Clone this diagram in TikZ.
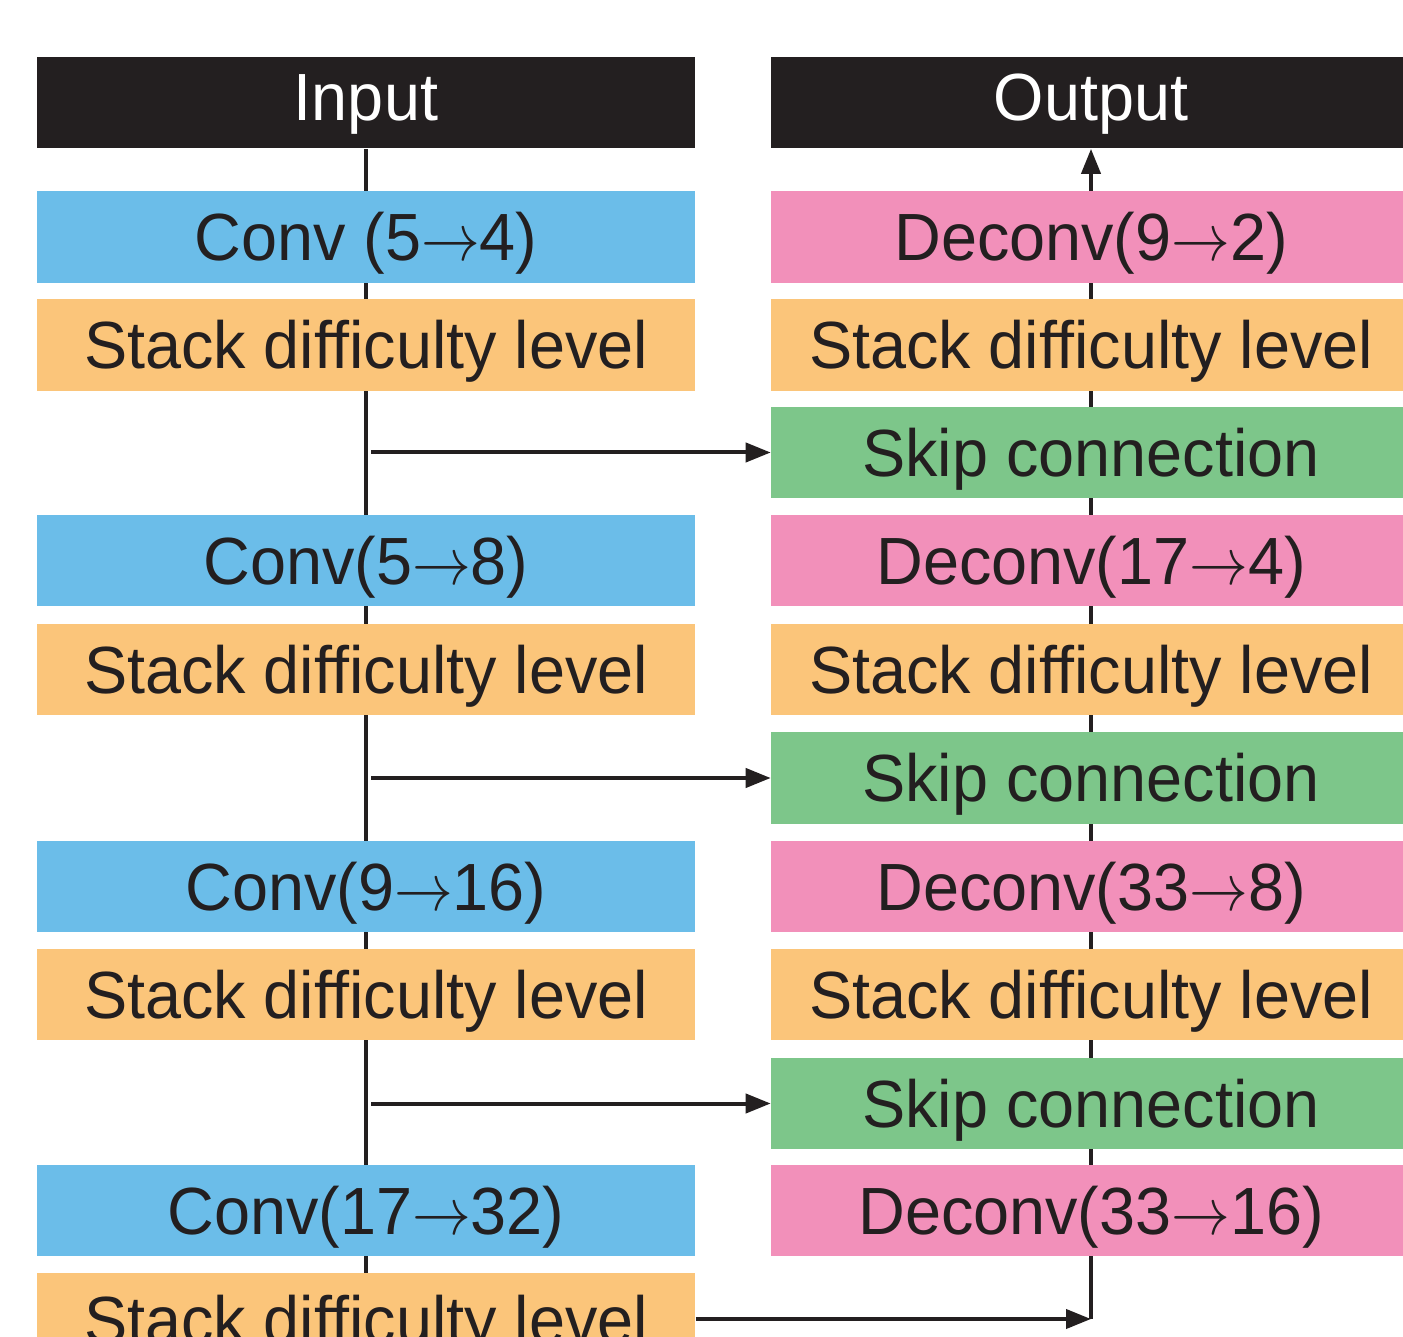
\RequirePackage{fix-cm}
\documentclass[tikz,border=0pt]{standalone}
\usepackage{fontspec}
\setmainfont{Liberation Sans}[FakeStretch=0.97]
\usetikzlibrary{arrows.meta,backgrounds}
\definecolor{ink}{HTML}{231F20}
\definecolor{convblue}{HTML}{6BBDE9}
\definecolor{stackorange}{HTML}{FBC57A}
\definecolor{deconvpink}{HTML}{F290BA}
\definecolor{skipgreen}{HTML}{7DC68A}
\newcommand{\chto}{\scalebox{0.88}[1]{$\rightarrow$}}
\begin{document}
\begin{tikzpicture}[x=0.02cm,y=-0.02cm,
	box/.style={minimum height=1.84cm,inner sep=0pt,text height=0.96cm,text depth=-0.08cm,text=ink,font=\fontsize{38}{40}\selectfont},
	lbox/.style={box,minimum width=13.18cm},
	rbox/.style={box,minimum width=12.8cm},
	head/.style={fill=ink,text=white,text depth=0.24cm},
	arr/.style={draw=ink,line width=0.08cm,-{Triangle[length=0.5cm,width=0.38cm]}},
	wire/.style={draw=ink,line width=0.08cm}]
	\useasboundingbox (0,0) rectangle (1403,1337);
	\clip (0,0) rectangle (1403,1337);
	% encoder
	\node[lbox,head] (in) at (366,102.5) {Input};
	\node[lbox,fill=convblue] (c1) at (366,237) {Conv (5\chto4)};
	\node[lbox,fill=stackorange] (s1) at (366,345) {Stack difficulty level};
	\node[lbox,fill=convblue] (c2) at (366,560.5) {Conv(5\chto8)};
	\node[lbox,fill=stackorange] (s2) at (366,669.5) {Stack difficulty level};
	\node[lbox,fill=convblue] (c3) at (366,886.5) {Conv(9\chto16)};
	\node[lbox,fill=stackorange] (s3) at (366,994.5) {Stack difficulty level};
	\node[lbox,fill=convblue] (c4) at (366,1210.5) {Conv(17\chto32)};
	\node[lbox,fill=stackorange] (s4) at (366,1319) {Stack difficulty level};
	% decoder
	\node[rbox,head] (out) at (1091,102.5) {Output};
	\node[rbox,fill=deconvpink] (d1) at (1091,237) {Deconv(9\chto2)};
	\node[rbox,fill=stackorange] (t1) at (1091,345) {Stack difficulty level};
	\node[rbox,fill=skipgreen] (k1) at (1091,452.5) {Skip connection};
	\node[rbox,fill=deconvpink] (d2) at (1091,560.5) {Deconv(17\chto4)};
	\node[rbox,fill=stackorange] (t2) at (1091,669.5) {Stack difficulty level};
	\node[rbox,fill=skipgreen] (k2) at (1091,778) {Skip connection};
	\node[rbox,fill=deconvpink] (d3) at (1091,886.5) {Deconv(33\chto8)};
	\node[rbox,fill=stackorange] (t3) at (1091,994.5) {Stack difficulty level};
	\node[rbox,fill=skipgreen] (k3) at (1091,1103.5) {Skip connection};
	\node[rbox,fill=deconvpink] (d4) at (1091,1210.5) {Deconv(33\chto16)};
	\coordinate (corner) at (s4.east -| d4.south);
	\begin{scope}[on background layer]
		\draw[wire] (in.south) -- (s4.north);
		\draw[arr] (corner) -- (out.south);
	\end{scope}
	\draw[arr] ([xshift=0.1cm]k1.west -| in.south) -- (k1.west);
	\draw[arr] ([xshift=0.1cm]k2.west -| in.south) -- (k2.west);
	\draw[arr] ([xshift=0.1cm]k3.west -| in.south) -- (k3.west);
	\draw[arr] (s4.east) -- (corner);
\end{tikzpicture}
\end{document}
